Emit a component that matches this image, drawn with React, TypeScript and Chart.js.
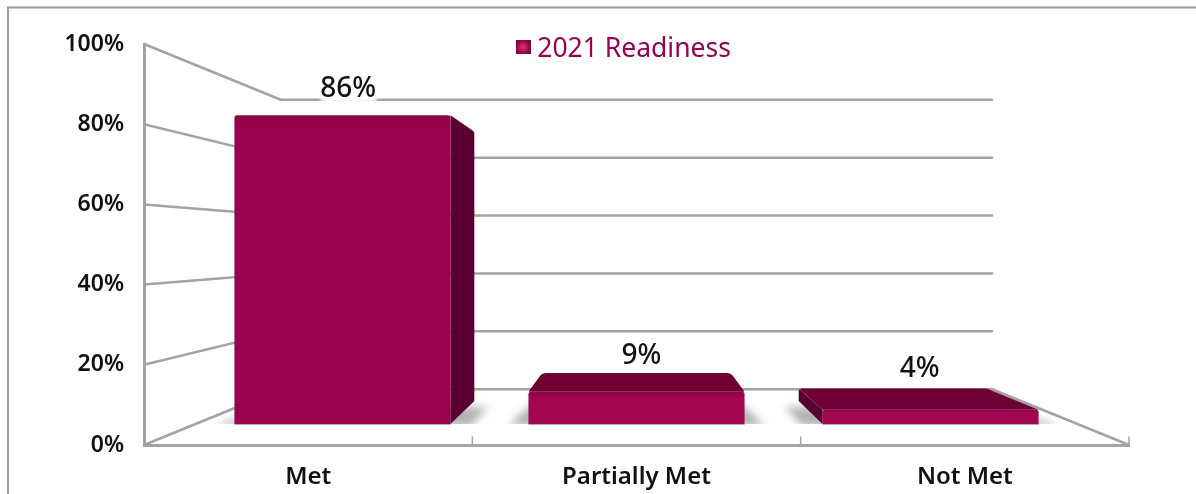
import React, { useEffect, useRef } from "react";
import { Chart, registerables } from "chart.js";

Chart.register(...registerables);

const categories = ["Met", "Partially Met", "Not Met"];
const readiness = [86, 9, 4];
const seriesName = "2021 Readiness";
const valueLabels = ["86%", "9%", "4%"];
const labelShiftX = [-13, 5, 8];
const labelLift = [18, 9, 12];

const FONT = "'Noto Sans', sans-serif";
const GRID = "#a3a3a3";
const INK = "#111111";
const BAR_FRONT = "#98034b";
const BAR_FRONT_LIGHT = "#a2064f";
const BAR_SIDE = "#5a0030";
const BAR_TOP = "#6e0034";

// Depth of each plane, as the fraction of the way towards the vanishing point.
const DEPTH_WALL = 0.278;
const DEPTH_BAR_NEAR = 0.1045;
const DEPTH_BAR_FAR = 0.219;

type Pt = [number, number];

// Traces a polygon with softened corners; sharp corners get a smaller radius.
function roundedPath(ctx: CanvasRenderingContext2D, pts: Pt[], radii: number[]) {
  ctx.beginPath();
  const n = pts.length;
  const start: Pt = [(pts[n - 1][0] + pts[0][0]) / 2, (pts[n - 1][1] + pts[0][1]) / 2];
  ctx.moveTo(start[0], start[1]);
  for (let i = 0; i < n; i++) {
    const prev = pts[(i + n - 1) % n];
    const next = pts[(i + 1) % n];
    const ax = prev[0] - pts[i][0];
    const ay = prev[1] - pts[i][1];
    const bx = next[0] - pts[i][0];
    const by = next[1] - pts[i][1];
    const angle = Math.acos((ax * bx + ay * by) / (Math.hypot(ax, ay) * Math.hypot(bx, by)));
    const s = Math.sin(angle / 2);
    ctx.arcTo(pts[i][0], pts[i][1], next[0], next[1], radii[i] * s * s);
  }
  ctx.closePath();
}

const perspectivePlugin = {
  id: "perspective",
  afterLayout(chart: any) {
    const legend = chart.legend;
    if (legend) {
      legend.left = 516;
      legend.right = legend.left + legend.width;
      legend.top = 36;
      legend.bottom = legend.top + legend.height;
    }
  },
  beforeDraw(chart: any) {
    const { ctx, width, height } = chart;
    ctx.save();
    ctx.fillStyle = "#ffffff";
    ctx.fillRect(0, 0, width, height);
    ctx.strokeStyle = "#9a9a9a";
    ctx.lineWidth = 2;
    ctx.beginPath();
    ctx.moveTo(8, height);
    ctx.lineTo(8, 7.5);
    ctx.lineTo(width, 7.5);
    ctx.stroke();
    ctx.restore();
  },
  beforeDatasetsDraw(chart: any) {
    const { ctx, chartArea, scales } = chart;
    const yScale = scales.y;
    const vx = (chartArea.left + chartArea.right) / 2;
    const vy = yScale.getPixelForValue(50);
    const project = (x: number, y: number, t: number): Pt => [x + (vx - x) * t, y + (vy - y) * t];

    // Side and back walls
    ctx.save();
    ctx.strokeStyle = GRID;
    ctx.lineWidth = 2.5;
    ctx.lineCap = "round";
    ctx.lineJoin = "round";
    for (const tick of yScale.ticks) {
      const y = yScale.getPixelForValue(tick.value);
      const a = project(chartArea.left, y, 0);
      const b = project(chartArea.left, y, DEPTH_WALL);
      const c = project(chartArea.right, y, DEPTH_WALL);
      ctx.beginPath();
      ctx.moveTo(a[0], a[1]);
      ctx.lineTo(b[0], b[1]);
      ctx.lineTo(c[0], c[1]);
      if (tick.value === 0) ctx.lineTo(chartArea.right, y);
      ctx.stroke();
    }
    // Tick marks between categories along the floor's front edge
    const slotWidth = (chartArea.right - chartArea.left) / categories.length;
    ctx.lineWidth = 1.5;
    for (let i = 0; i <= categories.length; i++) {
      const x = chartArea.left + slotWidth * i;
      ctx.beginPath();
      ctx.moveTo(x, chartArea.bottom);
      ctx.lineTo(x, chartArea.bottom - 8);
      ctx.stroke();
    }
    ctx.restore();

    const meta = chart.getDatasetMeta(0);

    // Soft shadows on the floor, cut off at the near edge of the bars
    meta.data.forEach((el: any) => {
      const left = el.x - el.width / 2;
      const right = el.x + el.width / 2;
      const nl = project(left, el.base, DEPTH_BAR_NEAR);
      const nr = project(right, el.base, DEPTH_BAR_NEAR);
      const fl = project(left, el.base, DEPTH_BAR_FAR);
      const fr = project(right, el.base, DEPTH_BAR_FAR);
      ctx.save();
      ctx.beginPath();
      ctx.rect(0, 0, chart.width, nl[1]);
      ctx.clip();
      ctx.filter = "blur(4px)";
      ctx.fillStyle = "rgba(125,125,125,0.6)";
      ctx.beginPath();
      ctx.moveTo(nl[0] - 20, nl[1] + 2);
      ctx.lineTo(nr[0] + 20, nr[1] + 2);
      ctx.lineTo(fr[0] + 14, fr[1] + 6);
      ctx.lineTo(fl[0] - 14, fl[1] + 6);
      ctx.closePath();
      ctx.fill();
      ctx.restore();
    });

    // White patch that keeps the 100% line from running through the first label
    const firstNear = project(meta.data[0].x, meta.data[0].y, DEPTH_BAR_NEAR);
    ctx.save();
    ctx.filter = "blur(1.5px)";
    ctx.fillStyle = "#ffffff";
    ctx.fillRect(firstNear[0] - 22, firstNear[1] - 19, 56, 6);
    ctx.restore();

    // Bars, each built from the front, side and top faces its value produces
    meta.data.forEach((el: any, i: number) => {
      const left = el.x - el.width / 2;
      const right = el.x + el.width / 2;
      const nlt = project(left, el.y, DEPTH_BAR_NEAR);
      const nrt = project(right, el.y, DEPTH_BAR_NEAR);
      const nlb = project(left, el.base, DEPTH_BAR_NEAR);
      const nrb = project(right, el.base, DEPTH_BAR_NEAR);
      const flt = project(left, el.y, DEPTH_BAR_FAR);
      const frt = project(right, el.y, DEPTH_BAR_FAR);
      const flb = project(left, el.base, DEPTH_BAR_FAR);
      const frb = project(right, el.base, DEPTH_BAR_FAR);

      if (frt[0] > nrt[0]) {
        ctx.fillStyle = BAR_SIDE;
        roundedPath(ctx, [nrt, frt, frb, nrb], [1, 4, 1, 1]);
        ctx.fill();
      }
      if (flt[0] < nlt[0]) {
        ctx.fillStyle = BAR_SIDE;
        roundedPath(ctx, [nlt, flt, flb, nlb], [1, 5, 1, 1]);
        ctx.fill();
      }
      if (flt[1] < nlt[1]) {
        ctx.fillStyle = BAR_TOP;
        roundedPath(ctx, [nlt, flt, frt, nrt], [3, 8, 8, 3]);
        ctx.fill();
      }
      const gradient = ctx.createLinearGradient(0, nlt[1], 0, nlb[1]);
      const solid = i === 0 ? BAR_FRONT : BAR_FRONT_LIGHT;
      gradient.addColorStop(0, "#8c0646");
      gradient.addColorStop(Math.min(0.25, 8 / (nlb[1] - nlt[1])), solid);
      gradient.addColorStop(1, solid);
      ctx.fillStyle = gradient;
      roundedPath(ctx, [nlb, nlt, nrt, nrb], [1, 5, 5, 1]);
      ctx.fill();
      ctx.strokeStyle = "rgba(120,90,105,0.55)";
      ctx.lineWidth = 1;
      ctx.beginPath();
      ctx.moveTo(nlb[0], nlb[1] + 0.5);
      ctx.lineTo(nrb[0], nrb[1] + 0.5);
      ctx.stroke();

      // Value label above the bar
      const midX = (project(el.x, el.y, DEPTH_BAR_NEAR)[0] + project(el.x, el.y, DEPTH_BAR_FAR)[0]) / 2;
      const topY = Math.min(nlt[1], flt[1]);
      ctx.save();
      ctx.font = `500 28px ${FONT}`;
      ctx.fillStyle = INK;
      ctx.textAlign = "center";
      ctx.textBaseline = "alphabetic";
      ctx.fillText(valueLabels[i], midX + labelShiftX[i], topY - labelLift[i]);
      ctx.restore();
    });
  },
  beforeDatasetDraw() {
    // The faces above replace the flat rectangles.
    return false;
  },
  afterDraw(chart: any) {
    const { ctx } = chart;
    ctx.save();
    const swatch = ctx.createRadialGradient(523, 47, 1, 523, 47, 10);
    swatch.addColorStop(0, "#d22f72");
    swatch.addColorStop(0.6, "#96024a");
    swatch.addColorStop(1, "#5e0a38");
    ctx.fillStyle = swatch;
    ctx.fillRect(516, 40, 15, 14);
    ctx.restore();
  },
};

export default function App() {
  const ref = useRef<HTMLCanvasElement | null>(null);

  useEffect(() => {
    if (!ref.current) return;
    const chart = new Chart(ref.current, {
      type: "bar",
      data: {
        labels: categories,
        datasets: [
          {
            label: seriesName,
            data: readiness,
            backgroundColor: BAR_FRONT,
            categoryPercentage: 0.735,
            barPercentage: 1,
          },
        ],
      },
      plugins: [perspectivePlugin],
      options: {
        animation: false,
        responsive: false,
        layout: { padding: { top: 44, right: 67, left: 0, bottom: 0 } },
        plugins: {
          tooltip: { enabled: false },
          title: { display: false },
          legend: {
            display: true,
            position: "chartArea",
            align: "start",
            labels: {
              boxWidth: 8,
              boxHeight: 8,
              padding: 0,
              color: BAR_FRONT,
              font: { family: FONT, size: 26.5, weight: "400" },
              generateLabels: () => [
                { text: seriesName, fillStyle: "rgba(0,0,0,0)", strokeStyle: "rgba(0,0,0,0)", lineWidth: 0, hidden: false, datasetIndex: 0, fontColor: BAR_FRONT },
              ],
            },
          },
        },
        scales: {
          x: {
            type: "category",
            afterFit: (scale: any) => {
              scale.height = 49;
            },
            grid: { display: false, drawTicks: false },
            border: { display: true, color: GRID, width: 3 },
            ticks: { color: INK, padding: 18, maxRotation: 0, font: { family: FONT, size: 24, weight: "600" } },
          },
          y: {
            type: "linear",
            min: 0,
            max: 100,
            afterFit: (scale: any) => {
              scale.width = 144;
            },
            grid: { display: false, drawTicks: false },
            border: { display: true, color: GRID, width: 3 },
            ticks: {
              stepSize: 20,
              color: INK,
              padding: 20,
              font: { family: FONT, size: 23, weight: "600" },
              callback: (v: any) => `${v}%`,
            },
          },
        },
      },
    });
    return () => chart.destroy();
  }, []);

  return (
    <canvas
      ref={ref}
      width={1196}
      height={494}
      style={{ position: "absolute", left: 0, top: 0, display: "block" }}
    />
  );
}
